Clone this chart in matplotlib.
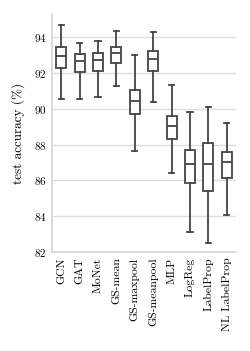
import matplotlib
matplotlib.use("Agg")
import matplotlib.pyplot as plt

models = ['GCN', 'GAT', 'MoNet', 'GS-mean', 'GS-maxpool', 'GS-meanpool',
          'MLP', 'LogReg', 'LabelProp', 'NL LabelProp']
whisker_low = [90.57, 90.54, 90.67, 91.30, 87.67, 90.41, 86.43, 83.13, 82.50, 84.07]
q1 = [92.26, 92.06, 92.13, 92.59, 89.69, 92.09, 88.31, 85.85, 85.43, 86.15]
median = [92.96, 92.69, 92.72, 93.13, 90.46, 92.76, 89.06, 86.91, 86.94, 87.02]
q3 = [93.46, 93.09, 93.15, 93.46, 91.07, 93.22, 89.61, 87.69, 88.11, 87.59]
whisker_high = [94.67, 93.69, 93.80, 94.35, 93.02, 94.30, 91.31, 89.80, 90.11, 89.19]

plt.rcParams['font.family'] = ['cmr10', 'DejaVu Serif']
plt.rcParams['axes.formatter.use_mathtext'] = True

stats = []
for i in range(len(models)):
    stats.append({'label': models[i], 'whislo': whisker_low[i], 'q1': q1[i],
                  'med': median[i], 'q3': q3[i], 'whishi': whisker_high[i]})

fig = plt.figure(figsize=(2.5, 3.51), dpi=100)
ax = fig.add_axes([0.208, 0.282, 0.736, 0.678])

edge = '#444444'
ax.bxp(stats, positions=range(len(models)), widths=0.55, showfliers=False,
       patch_artist=True,
       boxprops=dict(facecolor='white', edgecolor=edge, linewidth=1.3),
       medianprops=dict(color=edge, linewidth=1.3),
       whiskerprops=dict(color=edge, linewidth=1.3),
       capprops=dict(color=edge, linewidth=1.3),
       zorder=3)

ax.set_xlim(-0.5, len(models) - 0.5)
ax.set_ylim(82, 95.3)
ax.set_yticks([82, 84, 86, 88, 90, 92, 94])
ax.set_xticks(range(len(models)))
ax.set_xticklabels(models, rotation=90, fontsize=8.5)
ax.tick_params(axis='y', labelsize=8)
ax.tick_params(length=0, pad=4)
ax.set_ylabel('test accuracy (%)', fontsize=9.5, labelpad=6)

ax.yaxis.grid(True, color='#dddddd', linewidth=1)
ax.set_axisbelow(True)
for s in ['top', 'right']:
    ax.spines[s].set_visible(False)
for s in ['left', 'bottom']:
    ax.spines[s].set_color('#d5d5d5')
    ax.spines[s].set_linewidth(1.2)

fig.savefig('out.png', dpi=100)
